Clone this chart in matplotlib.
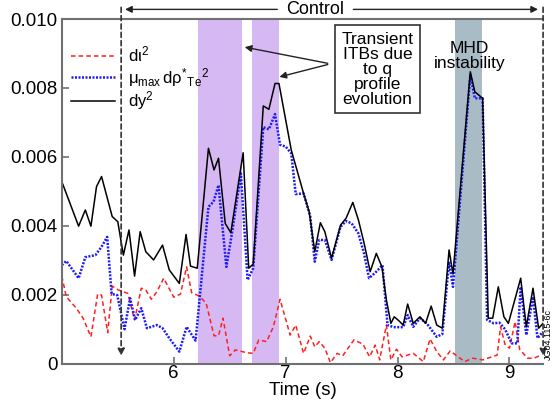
import numpy as np
import matplotlib
matplotlib.use('Agg')
import matplotlib.pyplot as plt

plt.rcParams['font.family'] = ['Liberation Sans', 'DejaVu Sans']
plt.rcParams['mathtext.fontset'] = 'custom'
plt.rcParams['mathtext.rm'] = 'Liberation Sans'
plt.rcParams['mathtext.it'] = 'Liberation Sans'

# dy^2 (black)
t_dy = [5.00, 5.15, 5.21, 5.26, 5.31, 5.355, 5.45, 5.50, 5.55, 5.60, 5.65, 5.70, 5.75, 5.82,
        5.90, 5.96, 6.05, 6.11, 6.15, 6.21, 6.31, 6.36, 6.40, 6.46, 6.51, 6.62, 6.67, 6.71,
        6.80, 6.85, 6.905, 6.94, 7.05, 7.16, 7.21, 7.26, 7.31, 7.35, 7.41, 7.49, 7.54, 7.60,
        7.65, 7.70, 7.755, 7.81, 7.86, 7.90, 7.94, 7.97, 8.01, 8.05, 8.09, 8.14, 8.20, 8.25,
        8.30, 8.35, 8.40, 8.46, 8.495, 8.65, 8.69, 8.76, 8.81, 8.85, 8.90, 8.95, 8.99, 9.10,
        9.15, 9.21, 9.26, 9.30]
v_dy = [5.28, 3.99, 4.46, 3.99, 5.14, 5.43, 4.27, 4.12, 3.15, 3.88, 2.54, 3.83, 3.25, 3.01,
        3.44, 2.72, 2.33, 3.75, 2.83, 2.77, 6.25, 5.62, 5.96, 4.07, 3.80, 6.12, 2.77, 2.89,
        7.48, 7.38, 8.13, 8.13, 6.20, 4.94, 4.41, 3.25, 4.09, 3.83, 3.06, 4.02, 4.22, 4.68,
        4.17, 3.51, 2.67, 3.20, 2.81, 1.85, 1.17, 1.36, 1.25, 1.12, 1.73, 1.17, 1.36, 1.17,
        1.67, 1.12, 1.03, 3.30, 2.60, 8.47, 7.89, 7.70, 1.32, 1.32, 2.23, 1.36, 1.17, 2.48,
        1.07, 2.19, 1.03, 1.17]

# mu_max d rho*_Te^2 (blue)
t_mu = [5.00, 5.04, 5.15, 5.21, 5.30, 5.355, 5.405, 5.445, 5.495, 5.56, 5.61, 5.655, 5.71,
        5.76, 5.85, 5.90, 5.96, 6.05, 6.115, 6.195, 6.31, 6.355, 6.40, 6.47, 6.52, 6.60, 6.66,
        6.71, 6.80, 6.85, 6.905, 6.95, 7.00, 7.05, 7.09, 7.16, 7.22, 7.26, 7.30, 7.35, 7.41,
        7.49, 7.54, 7.59, 7.65, 7.70, 7.745, 7.81, 7.865, 7.91, 7.965, 8.05, 8.09, 8.14, 8.20,
        8.26, 8.35, 8.40, 8.46, 8.495, 8.65, 8.69, 8.76, 8.80, 8.86, 8.91, 8.96, 9.02, 9.07,
        9.10, 9.15, 9.21, 9.25, 9.30]
v_mu = [2.86, 2.98, 2.48, 3.09, 3.15, 3.39, 3.68, 2.02, 1.99, 1.00, 1.90, 1.27, 1.61,
        1.03, 1.12, 1.03, 0.74, 0.35, 1.07, 0.67, 4.55, 4.70, 5.18, 2.81, 3.78, 5.52, 2.43,
        2.77, 6.86, 6.80, 7.24, 6.35, 6.30, 6.10, 4.92, 4.94, 4.27, 2.96, 3.59, 3.59, 3.01,
        3.97, 4.14, 4.07, 3.78, 3.20, 2.48, 2.67, 2.86, 1.12, 1.06, 1.06, 1.41, 1.07, 1.32,
        1.17, 0.78, 0.86, 2.96, 2.23, 8.38, 7.70, 7.70, 1.27, 1.17, 1.19, 1.00, 0.59, 0.59,
        2.23, 0.83, 1.94, 0.74, 0.93]

# d iota^2 (red)
t_di = [5.00, 5.04, 5.13, 5.19, 5.26, 5.32, 5.355, 5.41, 5.45, 5.505, 5.59, 5.65, 5.71, 5.75,
        5.80, 5.85, 5.91, 6.00, 6.06, 6.115, 6.16, 6.23, 6.29, 6.36, 6.40, 6.44, 6.50, 6.55,
        6.65, 6.71, 6.76, 6.83, 6.89, 6.95, 7.04, 7.09, 7.16, 7.22, 7.26, 7.30, 7.35, 7.40,
        7.46, 7.51, 7.61, 7.69, 7.75, 7.80, 7.84, 7.90, 7.94, 7.99, 8.04, 8.14, 8.23, 8.29,
        8.35, 8.41, 8.47, 8.60, 8.67, 8.76, 8.89, 8.92, 8.96, 9.00, 9.05, 9.09, 9.16, 9.22, 9.28]
v_di = [2.54, 1.94, 1.61, 1.32, 0.78, 2.02, 1.99, 0.90, 2.25, 2.14, 2.04, 1.27, 2.19, 2.14,
        1.87, 2.09, 2.48, 1.93, 2.02, 2.81, 2.06, 1.96, 1.75, 0.81, 0.81, 1.32, 0.23, 0.40,
        0.32, 0.30, 0.69, 0.64, 1.07, 1.87, 0.83, 1.12, 0.30, 0.80, 0.49, 0.64, 0.45, 0.03,
        0.30, 0.23, 0.69, 0.57, 0.20, 0.54, 0.11, 1.12, 0.11, 0.42, 0.20, 0.30, 0.06, 0.72,
        0.35, 0.11, 0.37, 0.06, 0.16, 0.11, 0.25, 1.07, 0.56, 0.45, 1.22, 0.42, 0.16, 0.16, 0.25]

itb_bands = [(6.22, 6.61), (6.70, 6.94)]
mhd_band = (8.51, 8.75)
t_control = (5.53, 9.30)
y_ticks = [0, 0.002, 0.004, 0.006, 0.008, 0.010]
y_ticklabels = ['0', '0.002', '0.004', '0.006', '0.008', '0.010']
x_ticks = [6, 7, 8, 9]

SPINE = '#707070'

fig = plt.figure(figsize=(5.57, 4.05), dpi=100)
ax = fig.add_axes([0.111, 0.102, 0.864, 0.851])

for a, b in itb_bands:
    ax.axvspan(a, b, color='#d6b9f2', lw=0, zorder=0)
ax.axvspan(mhd_band[0], mhd_band[1], color='#a9bcc6', lw=0, zorder=0)

s = 1e-3
ax.plot(t_di, np.array(v_di) * s, color='#ff2020', ls=(0, (3, 2)), lw=1.1, label=r'd$\iota^2$')
ax.plot(t_mu, np.array(v_mu) * s, color='#1a1aff', ls=(0, (0.8, 0.6)), lw=1.8,
        label=r'$\mu_{\rm max}\,$d$\rho^{*}{}_{\rm Te}{}^{2}$')
ax.plot(t_dy, np.array(v_dy) * s, color='black', lw=1.1, label=r'dy$^2$')

ax.set_xlim(5.0, 9.30)
ax.set_ylim(0, 0.010)
ax.set_xticks(x_ticks)
ax.set_xticklabels([str(x) for x in x_ticks])
ax.set_yticks(y_ticks)
ax.set_yticklabels(y_ticklabels)
ax.tick_params(direction='in', length=5, width=1.2, color=SPINE, labelsize=13.5, pad=3)
ax.tick_params(axis='x', pad=1)
ax.set_xlabel('Time (s)', fontsize=13.5, labelpad=0)

for side in ['left', 'bottom', 'top']:
    ax.spines[side].set_color(SPINE)
    ax.spines[side].set_linewidth(1.5)
ax.spines['right'].set_visible(False)

leg = ax.legend(loc='upper left', bbox_to_anchor=(0.02, 0.925), frameon=False, fontsize=12,
                handlelength=2.6, handletextpad=0.8, labelspacing=0.05, borderpad=0,
                borderaxespad=0)

# control window markers
arr = dict(arrowstyle='-|>', color='#333333', lw=1.2, ls=(0, (3, 2)), mutation_scale=10)
for tc in t_control:
    ax.annotate('', xy=(tc, 0.00015), xytext=(tc, 0.01042), arrowprops=arr,
                annotation_clip=False)
solid = dict(arrowstyle='-|>', color='#222222', lw=1.0, mutation_scale=10)
ax.annotate('', xy=(t_control[0] + 0.01, 0.01028), xytext=(6.95, 0.01028),
            arrowprops=solid, annotation_clip=False)
ax.annotate('', xy=(t_control[1] - 0.02, 0.01028), xytext=(7.58, 0.01028),
            arrowprops=solid, annotation_clip=False)
ax.text(7.265, 0.01028, 'Control', ha='center', va='center', fontsize=13)

# ITB annotation box
ax.text(7.82, 0.00855, 'Transient\nITBs due\nto q\nprofile\nevolution', ha='center',
        va='center', fontsize=12.5, linespacing=1.0,
        bbox=dict(boxstyle='square,pad=0.35', fc='white', ec='#333333', lw=1.2))
ax.annotate('', xy=(6.61, 0.0092), xytext=(7.40, 0.0087), arrowprops=solid)
ax.annotate('', xy=(6.92, 0.0083), xytext=(7.40, 0.0087), arrowprops=solid)

ax.text(8.64, 0.0085, 'MHD\ninstability', ha='center', va='bottom', fontsize=12.5,
        linespacing=1.0)

fig.text(0.985, 0.175, 'JG04.115-6c', rotation=90, fontsize=6.5, ha='center', va='center')

fig.savefig('out.png', dpi=100)
